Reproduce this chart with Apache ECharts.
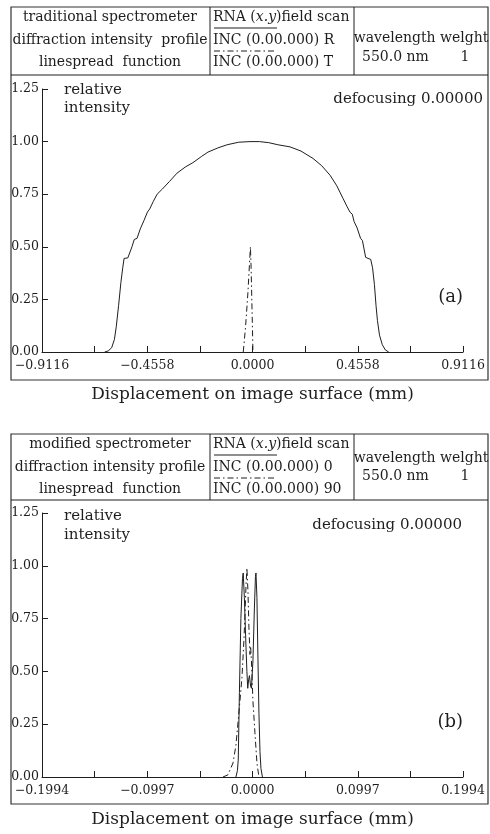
<!DOCTYPE html>
<html>
<head>
<meta charset="utf-8">
<script src="https://cdn.jsdelivr.net/npm/echarts@6/dist/echarts.min.js"></script>
<style>
  html, body { margin: 0; padding: 0; background: #fff; }
  #chart { width: 490px; height: 834px; }
</style>
</head>
<body>
<div id="chart"></div>
<script>
(function() {
    const FONT = '"DejaVu Serif", serif';
    const INK = '#1e1e1e';

    // x ranges and tick step (mm)
    const xRangeA = [-0.9116, 0.9116];
    const xStepA = 0.2279;
    const xRangeB = [-0.1994, 0.1994];
    const xStepB = 0.04985;
    const yTicks = [0, 0.25, 0.5, 0.75, 1.0, 1.25];

    // (a) traditional spectrometer, R (solid)
    const lsfA_R = [
        [-0.640, 0], [-0.625, 0.005], [-0.610, 0.02], [-0.598, 0.06], [-0.590, 0.12],
        [-0.580, 0.22], [-0.570, 0.33], [-0.562, 0.40], [-0.556, 0.445], [-0.540, 0.447],
        [-0.532, 0.45], [-0.522, 0.50], [-0.512, 0.535], [-0.500, 0.54], [-0.494, 0.545],
        [-0.486, 0.585], [-0.478, 0.59], [-0.470, 0.625], [-0.462, 0.632], [-0.455, 0.665],
        [-0.445, 0.68], [-0.430, 0.715], [-0.413, 0.75], [-0.390, 0.775], [-0.360, 0.81],
        [-0.327, 0.85], [-0.290, 0.88], [-0.258, 0.90], [-0.220, 0.93], [-0.193, 0.95],
        [-0.150, 0.97], [-0.110, 0.985], [-0.060, 0.997], [-0.011, 1.0], [0.030, 1.0],
        [0.070, 0.995], [0.110, 0.985], [0.1625, 0.975], [0.210, 0.955], [0.262, 0.92],
        [0.300, 0.885], [0.336, 0.84], [0.365, 0.79], [0.392, 0.73], [0.410, 0.69],
        [0.422, 0.665], [0.432, 0.655], [0.440, 0.62], [0.453, 0.59], [0.460, 0.585],
        [0.468, 0.54], [0.476, 0.53], [0.490, 0.45], [0.500, 0.445], [0.512, 0.44],
        [0.520, 0.40], [0.528, 0.32], [0.535, 0.22], [0.541, 0.15], [0.550, 0.08],
        [0.562, 0.035], [0.575, 0.01], [0.590, 0]
    ];
    // (a) T (dash-dot)
    const lsfA_T = [
        [-0.040, 0], [-0.030, 0.12], [-0.020, 0.28], [-0.012, 0.44], [-0.009, 0.50],
        [-0.006, 0.40], [-0.002, 0.20], [0.002, 0]
    ];
    // (b) modified spectrometer, 0 (solid)
    const lsfB_0 = [
        [-0.0157, 0], [-0.0143, 0.03], [-0.0135, 0.08], [-0.0124, 0.40], [-0.0110, 0.75],
        [-0.0095, 0.94], [-0.0088, 0.966], [-0.0077, 0.85], [-0.0062, 0.62], [-0.0053, 0.50],
        [-0.0045, 0.42], [-0.0037, 0.46], [-0.0029, 0.48], [-0.0018, 0.43], [-0.0010, 0.42],
        [0.0004, 0.55], [0.0018, 0.80], [0.0028, 0.95], [0.0033, 0.966], [0.0042, 0.85],
        [0.0052, 0.55], [0.0061, 0.30], [0.0071, 0.12], [0.0080, 0.04], [0.0094, 0]
    ];
    // (b) 90 (dash-dot)
    const lsfB_90 = [
        [-0.0280, 0], [-0.0233, 0.01], [-0.0185, 0.066], [-0.0157, 0.15], [-0.0138, 0.255],
        [-0.0119, 0.36], [-0.0100, 0.47], [-0.0081, 0.65], [-0.0072, 0.76], [-0.0062, 0.90],
        [-0.0053, 0.99], [-0.0043, 0.88], [-0.0034, 0.71], [-0.0024, 0.58], [-0.0018, 0.62],
        [-0.0010, 0.55], [0.0004, 0.36], [0.0023, 0.21], [0.0042, 0.066], [0.0061, 0]
    ];

    const headerA = ['traditional spectrometer', 'diffraction intensity  profile', 'linespread  function'];
    const headerB = ['modified spectrometer', 'diffraction intensity profile', 'linespread  function'];
    const legendA = ['INC (0.00.000) R', 'INC (0.00.000) T'];
    const legendB = ['INC (0.00.000) 0', 'INC (0.00.000) 90'];

    const DASHDOT = [6, 3, 1.5, 3];

    function fmtX(min, step) {
        return function(v) {
            const k = Math.round((v - min) / step);
            if (k % 2 !== 0) return '';
            if (Math.abs(v) < 1e-9) v = 0;
            const s = Math.abs(v).toFixed(4);
            return v < 0 ? '\u2212' + s : s;
        };
    }

    function xAxis(idx, range, step) {
        return {
            gridIndex: idx, type: 'value', min: range[0], max: range[1], interval: step,
            axisLine: { show: true, onZero: false, lineStyle: { color: INK, width: 1 } },
            axisTick: { show: true, inside: true, length: 6, lineStyle: { color: INK } },
            splitLine: { show: false },
            axisLabel: { margin: 7, fontFamily: FONT, fontSize: 12.5, color: INK, formatter: fmtX(range[0], step) },
            name: 'Displacement on image surface (mm)',
            nameLocation: 'middle', nameGap: 34,
            nameTextStyle: { fontFamily: FONT, fontSize: 17, color: INK }
        };
    }

    function yAxis(idx) {
        return {
            gridIndex: idx, type: 'value', min: yTicks[0], max: yTicks[yTicks.length - 1], interval: 0.25,
            axisLine: { show: true, onZero: false, lineStyle: { color: INK, width: 1 } },
            axisTick: { show: true, inside: true, length: 6, lineStyle: { color: INK } },
            splitLine: { show: false },
            axisLabel: { margin: 3, fontFamily: FONT, fontSize: 12.5, color: INK, formatter: v => v.toFixed(2) }
        };
    }

    function txt(x, y, text, align, size, extra) {
        return Object.assign({
            type: 'text', x: x, y: y,
            style: { text: text, fill: INK, font: (size || 14) + 'px ' + FONT, align: align || 'left', verticalAlign: 'middle' }
        }, extra || {});
    }

    function ruleLine(x1, y1, x2, y2, dash) {
        return {
            type: 'line', shape: { x1: x1, y1: y1, x2: x2, y2: y2 },
            style: { stroke: INK, lineWidth: 1, lineDash: dash || null }
        };
    }

    // header box + frame for one panel
    function panelFrame(top, headBottom, bottom, head, legend) {
        const els = [];
        els.push({ type: 'rect', shape: { x: 11, y: top, width: 477, height: bottom - top },
                   style: { fill: 'none', stroke: '#333', lineWidth: 1.2 } });
        els.push(ruleLine(11, headBottom, 488, headBottom));
        els.push(ruleLine(210, top, 210, headBottom));
        els.push(ruleLine(354, top, 354, headBottom));
        const rows = [top + 10, top + 33, top + 55];
        head.forEach((h, i) => els.push(txt(110, rows[i], h, 'center')));
        els.push({
            type: 'text', x: 213, y: rows[0],
            style: {
                text: 'RNA ({i|x.y}){n|field scan}', fill: INK, font: '14px ' + FONT, verticalAlign: 'middle',
                rich: { i: { fontStyle: 'italic', fontFamily: FONT, fontSize: 14, fill: INK },
                        n: { fontFamily: FONT, fontSize: 14, fill: INK } }
            }
        });
        els.push(ruleLine(214, top + 21, 277, top + 21));
        els.push(txt(213, rows[1], legend[0]));
        els.push(ruleLine(214, top + 44, 277, top + 44, DASHDOT));
        els.push(txt(213, rows[2], legend[1]));
        return els;
    }

    const chart = echarts.init(document.getElementById('chart'), null, { renderer: 'canvas' });

    const graphics = []
        .concat(panelFrame(7, 75, 380, headerA, legendA))
        .concat(panelFrame(434, 500, 804, headerB, legendB))
        .concat([
            txt(421, 38, 'wavelength welght', 'center'),
            txt(362, 57, '550.0 nm'), txt(465, 57, '1', 'center'),
            txt(421, 458, 'wavelength welght', 'center'),
            txt(362, 476, '550.0 nm'), txt(465, 476, '1', 'center'),
            txt(64, 90, 'relative', 'left', 15), txt(64, 108, 'intensity', 'left', 15),
            txt(483, 99, 'defocusing 0.00000', 'right', 15),
            txt(463, 297, '(a)', 'right', 18),
            txt(64, 516, 'relative', 'left', 15), txt(64, 535, 'intensity', 'left', 15),
            txt(462, 525, 'defocusing 0.00000', 'right', 15),
            txt(463, 722, '(b)', 'right', 18)
        ]);

    const lineSeries = (name, data, xi, dash) => ({
        name: name, type: 'line', xAxisIndex: xi, yAxisIndex: xi, data: data,
        showSymbol: false, symbol: 'none', smooth: false, silent: true,
        lineStyle: { color: INK, width: 1, type: dash || 'solid' }
    });

    const option = {
        animation: false,
        backgroundColor: '#fff',
        grid: [
            { left: 42, top: 89, width: 421, height: 263 },
            { left: 42, top: 513, width: 421, height: 264 }
        ],
        xAxis: [xAxis(0, xRangeA, xStepA), xAxis(1, xRangeB, xStepB)],
        yAxis: [yAxis(0), yAxis(1)],
        graphic: graphics,
        series: [
            lineSeries(legendA[0], lsfA_R, 0),
            lineSeries(legendA[1], lsfA_T, 0, DASHDOT),
            lineSeries(legendB[0], lsfB_0, 1),
            lineSeries(legendB[1], lsfB_90, 1, DASHDOT)
        ]
    };

    chart.setOption(option);

    window.addEventListener('resize', () => {
        if (chart) chart.resize();
    });
})();
</script>
</body>
</html>
